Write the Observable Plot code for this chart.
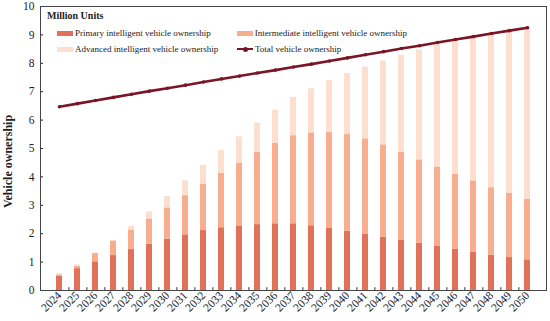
<!DOCTYPE html>
<html><head><meta charset="utf-8">
<script src="https://cdn.jsdelivr.net/npm/d3@7"></script>
<script src="https://cdn.jsdelivr.net/npm/@observablehq/plot@0.6"></script>
<style>
body{margin:0;background:#fff;}
#wrap{position:relative;width:550px;height:321px;font-family:"Liberation Serif","Times New Roman",serif;}
#legend{position:absolute;left:47px;top:9px;font-size:9px;color:#222;white-space:nowrap;}
#legend .title{font-weight:bold;font-size:10px;height:13px;line-height:13px;margin-bottom:3px;}
.row{display:flex;height:16px;align-items:center;}
.item{display:flex;align-items:center;width:180px;}
.sw{width:16px;height:5px;margin:0 2px 0 10px;}
.ln{position:relative;width:16px;height:2.5px;background:#7B1426;margin:0 2px 0 10px;}
.ln i{position:absolute;left:6px;top:-1.2px;width:5px;height:5px;border-radius:50%;background:#7B1426;}
svg text{font-family:"Liberation Serif","Times New Roman",serif;}
</style></head>
<body><div id="wrap"></div>
<script>
const years = ["2024","2025","2026","2027","2028","2029","2030","2031","2032","2033","2034","2035","2036","2037","2038","2039","2040","2041","2042","2043","2044","2045","2046","2047","2048","2049","2050"];
const primary = [0.51,0.77,1.01,1.23,1.44,1.63,1.81,1.96,2.11,2.21,2.27,2.32,2.35,2.35,2.28,2.20,2.09,1.99,1.88,1.76,1.66,1.55,1.45,1.35,1.25,1.16,1.08];
const intermediate = [0.04,0.08,0.29,0.51,0.69,0.89,1.10,1.38,1.64,1.92,2.22,2.54,2.83,3.10,3.27,3.36,3.40,3.35,3.25,3.11,2.94,2.80,2.64,2.51,2.37,2.26,2.14];
const advanced = [0.04,0.05,0.01,0.01,0.12,0.25,0.40,0.52,0.66,0.79,0.92,1.03,1.17,1.35,1.55,1.83,2.15,2.53,2.95,3.41,3.87,4.31,4.73,5.12,5.46,5.71,6.00];
const total = [6.47,6.58,6.69,6.80,6.91,7.02,7.12,7.23,7.34,7.45,7.55,7.66,7.76,7.87,7.97,8.08,8.19,8.30,8.41,8.52,8.62,8.73,8.84,8.94,9.05,9.15,9.25];
const seriesNames = ["Primary intelligent vehicle ownership","Intermediate intelligent vehicle ownership","Advanced intelligent vehicle ownership"];
const colors = ["#E0725C","#F7AD8E","#FDDFD0"];
const lineName = "Total vehicle ownership";
const lineColor = "#7B1426";
const yTicks = [0,1,2,3,4,5,6,7,8,9,10];

const rows = [];
[primary, intermediate, advanced].forEach((arr, s) => arr.forEach((v, i) => rows.push({year: years[i], series: seriesNames[s], value: v})));
const totals = years.map((y, i) => ({year: y, total: total[i]}));

const chart = Plot.plot({
  width: 550, height: 321,
  marginLeft: 40, marginRight: 4, marginTop: 6, marginBottom: 31,
  x: {domain: years, paddingInner: 0.66, paddingOuter: 0.33, label: null},
  y: {domain: [0, 10], ticks: yTicks, label: null},
  color: {domain: seriesNames, range: colors},
  style: {fontSize: "11px", color: "#222"},
  marks: [
    Plot.barY(rows, Plot.stackY({x: "year", y: "value", fill: "series", z: "series", order: seriesNames})),
    Plot.line(totals, {x: "year", y: "total", stroke: lineColor, strokeWidth: 2.6}),
    Plot.dot(totals, {x: "year", y: "total", fill: lineColor, r: 1.8}),
    Plot.axisY({ticks: yTicks, tickSize: -3, tickPadding: 9, fontSize: 11.5, label: "Vehicle ownership", labelAnchor: "center", labelArrow: "none", labelOffset: 37}),
    Plot.axisX({tickSize: 0, tickRotate: -45, tickPadding: 3, fontSize: 11.5, label: null}),
    Plot.ruleX(years.slice(0, -1), {x: d => d, dx: 9.37, y1: 0, y2: 0.1, stroke: "#333"}),
    Plot.frame({stroke: "#444", strokeWidth: 1})
  ]
});
const wrap = document.getElementById("wrap");
wrap.appendChild(chart);
chart.querySelectorAll('[aria-label="y-axis label"] text').forEach(t => {t.style.fontWeight = "bold"; t.style.fontSize = "12px"; t.setAttribute("dx", "-13");});

const lg = document.createElement("div");
lg.id = "legend";
lg.innerHTML = `<div class="title">Million Units</div>
<div class="row"><div class="item"><span class="sw" style="background:${colors[0]}"></span>${seriesNames[0]}</div><div class="item"><span class="sw" style="background:${colors[1]}"></span>${seriesNames[1]}</div></div>
<div class="row"><div class="item"><span class="sw" style="background:${colors[2]}"></span>${seriesNames[2]}</div><div class="item"><span class="ln"><i></i></span>${lineName}</div></div>`;
wrap.appendChild(lg);
</script></body></html>
